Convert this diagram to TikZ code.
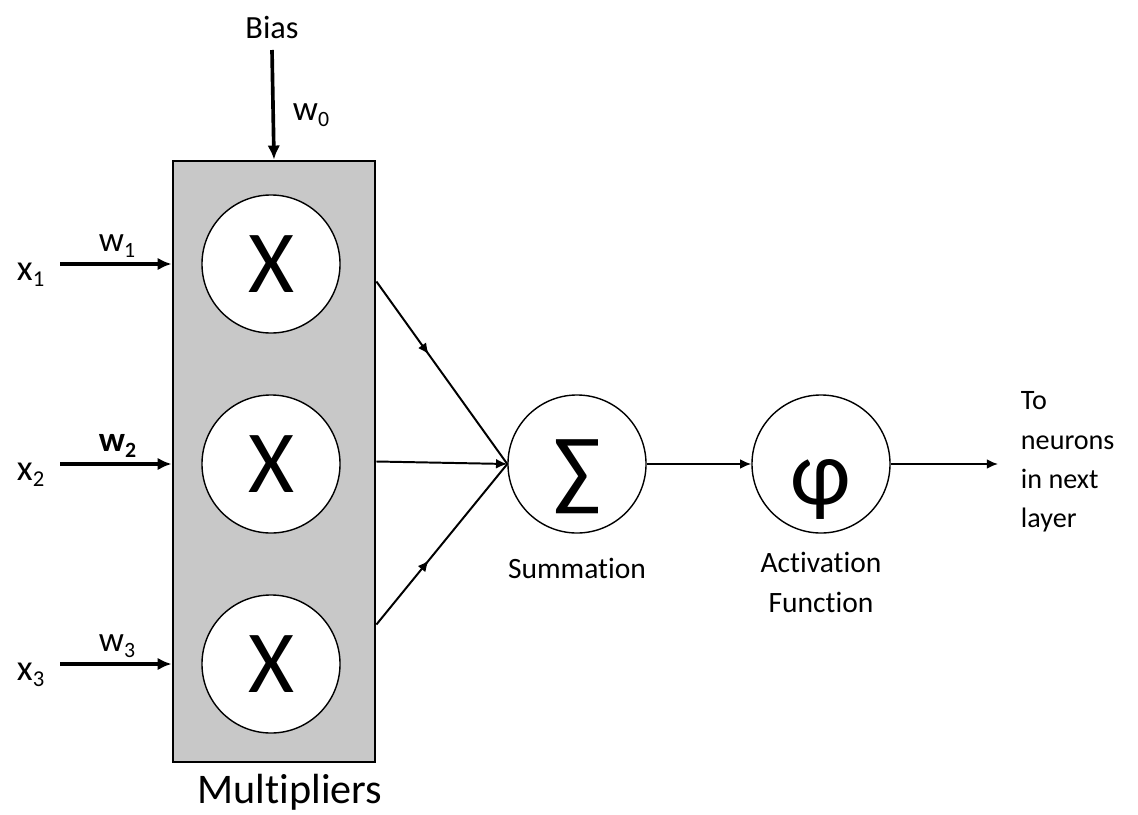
\documentclass[tikz,border=0pt]{standalone}
\usepackage{fontspec}
\setmainfont{Carlito}[Ligatures={NoCommon}]
\usetikzlibrary{arrows.meta,decorations.markings}
\definecolor{boxgray}{RGB}{200,200,200}
\newcommand{\lowsub}[1]{\raisebox{-0.4ex}{\scalebox{0.62}{#1}}}

\begin{document}
\begin{tikzpicture}[x=0.025cm,y=-0.025cm,
    unit/.style={circle,draw,line width=1pt,fill=white,inner sep=0pt,minimum size=3.45cm},
    thick in/.style={line width=2.6pt,-{Latex[length=10pt,width=9pt]}},
    thin in/.style={line width=1.4pt},
    midarrow/.style={postaction={decorate},decoration={markings,
        mark=at position 0.4 with {\arrow{Latex[length=8pt,width=7pt]}}}}]
        \useasboundingbox (0,0) rectangle (1138,815);
        \node[draw,line width=2pt,fill=boxgray,minimum width=5.05cm,minimum height=15.02cm] (mult) at (274,461.5) {};
        \node[unit] (m1) at (271,264) {\fontsize{63}{70}\selectfont X};
        \node[unit] (m2) at (271,464) {\fontsize{63}{70}\selectfont X};
        \node[unit] (m3) at (271,664) {\fontsize{63}{70}\selectfont X};
        \node[unit,label={[yshift=-9pt,font=\fontsize{63}{70}\selectfont]center:∑}] (sum) at (577,464) {};
        \node[unit,label={[yshift=-18pt,font=\fontsize{66}{70}\selectfont]center:φ}] (act) at (821,464) {};
        % inputs
        \coordinate (in1) at (60,264);
        \coordinate (in2) at (60,464);
        \coordinate (in3) at (60,664);
        \draw[thick in] (in1) -- (mult.west |- m1);
        \draw[thick in] (in2) -- (mult.west |- m2);
        \draw[thick in] (in3) -- (mult.west |- m3);
        \node[anchor=base west,font=\fontsize{26}{30}\selectfont] (x1) at (12,280) {x\lowsub{1}};
        \node[anchor=base west,font=\fontsize{26}{30}\selectfont] (x2) at (12,480) {x\lowsub{2}};
        \node[anchor=base west,font=\fontsize{26}{30}\selectfont] (x3) at (12,680) {x\lowsub{3}};
        \node[anchor=base west,font=\fontsize{25}{30}\selectfont] (w1) at (94,251) {w\lowsub{1}};
        \node[anchor=base west,font=\fontsize{25}{30}\selectfont\bfseries] (w2) at (94,451) {w\lowsub{2}};
        \node[anchor=base west,font=\fontsize{25}{30}\selectfont] (w3) at (94,651) {w\lowsub{3}};
        % bias
        \node[font=\fontsize{23}{26}\selectfont] (bias) at (272,27) {Bias};
        \draw[thick in] (bias.south |- 0,50) -- (mult.north);
        \node[anchor=base west,font=\fontsize{25}{30}\selectfont] (w0) at (288,120) {w\lowsub{0}};
        % to the summation
        \path (mult.east) ++(0,-180) coordinate (o1);
        \path (mult.east) ++(0,0) coordinate (o2);
        \path (mult.east) ++(0,163) coordinate (o3);
        \draw[thin in,midarrow] (o1) -- (sum.west);
        \draw[thin in,-{Latex[length=8pt,width=7pt]}] (o2) -- (sum.west);
        \draw[thin in,midarrow] (o3) -- (sum.west);
        \draw[thin in,-{Latex[length=8pt,width=7pt]}] (sum) -- (act);
        \coordinate (tip) at (998,464);
        \draw[thin in,-{Latex[length=8pt,width=7pt]}] (act) -- (tip);
        % labels
        \node[font=\fontsize{21}{28}\selectfont] (sumlab) at (577,568) {Summation};
        \node[align=center,font=\fontsize{21}{28.5}\selectfont] (actlab) at (821,582) {Activation\\Function};
        \node[align=left,anchor=west,font=\fontsize{20}{28}\selectfont] (next) at (1016,462) {To\\neurons\\in next\\layer};
        \node[font=\fontsize{30}{36}\selectfont] (multlab) at (290,792) {Multipliers};
      \end{tikzpicture}
\end{document}
